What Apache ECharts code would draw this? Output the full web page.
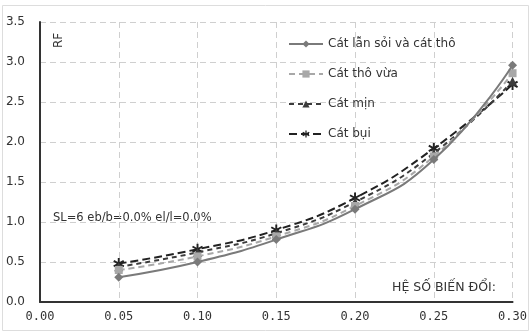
<!DOCTYPE html>
<html><head><meta charset="utf-8">
<script src="https://cdn.jsdelivr.net/npm/echarts@6/dist/echarts.min.js"></script>
<style>html,body{margin:0;padding:0;background:#fff}#c{width:530px;height:333px}</style>
</head><body><div id="c"></div>
<script>
const xValues = [0.05, 0.10, 0.15, 0.20, 0.25, 0.30];
const seriesNames = ['Cát lẫn sỏi và cát thô', 'Cát thô vừa', 'Cát mịn', 'Cát bụi'];
const s1 = [0.31, 0.50, 0.78, 1.16, 1.78, 2.96];
const s2 = [0.40, 0.57, 0.82, 1.20, 1.82, 2.86];
const s3 = [0.44, 0.62, 0.86, 1.25, 1.86, 2.76];
const s4 = [0.48, 0.66, 0.90, 1.30, 1.92, 2.72];
const annotation = 'SL=6 eb/b=0.0% el/l=0.0%';
const xTitle = 'HỆ SỐ BIẾN ĐỔI:';
const yTitle = 'RF';

const star = 'path://M-1,-6L1,-6L1,6L-1,6Z M4.696,-3.866L5.696,-2.134L-4.696,3.866L-5.696,2.134Z M-5.696,-2.134L-4.696,-3.866L5.696,2.134L4.696,3.866Z';
const pairs = a => xValues.map((x, i) => [x, a[i]]);
const styles = [
  {color: '#7a7a7a', type: 'solid', symbol: 'diamond', size: 9},
  {color: '#a8a8a8', type: [6, 4], symbol: 'rect', size: 8},
  {color: '#3c3c3c', type: [5, 4], symbol: 'triangle', size: 9},
  {color: '#222222', type: [8, 4], symbol: star, size: 11}
];
const data = [s1, s2, s3, s4];

const chart = echarts.init(document.getElementById('c'));
chart.setOption({
  animation: false,
  grid: {left: 40, right: 17, top: 22, bottom: 31},
  xAxis: {
    type: 'value', min: 0, max: 0.3, interval: 0.05,
    axisLine: {lineStyle: {color: '#333', width: 2}},
    axisTick: {show: false},
    axisLabel: {formatter: v => v.toFixed(2), fontFamily: 'DejaVu Sans Mono', fontSize: 12, color: '#333', margin: 9},
    splitLine: {show: true, lineStyle: {color: '#cfcfcf', type: [6, 4]}}
  },
  yAxis: {
    type: 'value', min: 0, max: 3.5, interval: 0.5,
    axisLine: {show: true, lineStyle: {color: '#333', width: 2}},
    axisTick: {show: false},
    axisLabel: {formatter: v => v.toFixed(1), fontFamily: 'DejaVu Sans', fontSize: 12, color: '#333', margin: 15},
    splitLine: {show: true, lineStyle: {color: '#cfcfcf', type: [6, 4]}}
  },
  legend: {
    orient: 'vertical', left: 283, top: 33, itemWidth: 34, itemHeight: 9, itemGap: 18,
    textStyle: {fontFamily: 'DejaVu Sans', fontSize: 12, color: '#333'},
    data: seriesNames
  },
  series: data.map((d, i) => ({
    name: seriesNames[i], type: 'line', smooth: true, data: pairs(d),
    symbol: styles[i].symbol, symbolSize: styles[i].size, z: 10 - i,
    lineStyle: {color: styles[i].color, width: 2, type: styles[i].type},
    itemStyle: {color: styles[i].color}
  })),
  graphic: [
    {type: 'rect', shape: {x: 2.5, y: 5.5, width: 526, height: 325}, style: {fill: 'none', stroke: '#dddddd', lineWidth: 1}, silent: true},
    {type: 'text', x: 53, y: 48, rotation: Math.PI / 2, style: {text: yTitle, fontFamily: 'DejaVu Sans', fontSize: 12, fill: '#333', textVerticalAlign: 'top'}},
    {type: 'text', left: 53, top: 212, style: {text: annotation, fontFamily: 'DejaVu Sans', fontSize: 11.5, fill: '#333'}},
    {type: 'text', left: 392, top: 281, style: {text: xTitle, fontFamily: 'DejaVu Sans', fontSize: 12.5, fill: '#333'}}
  ]
});
</script></body></html>
